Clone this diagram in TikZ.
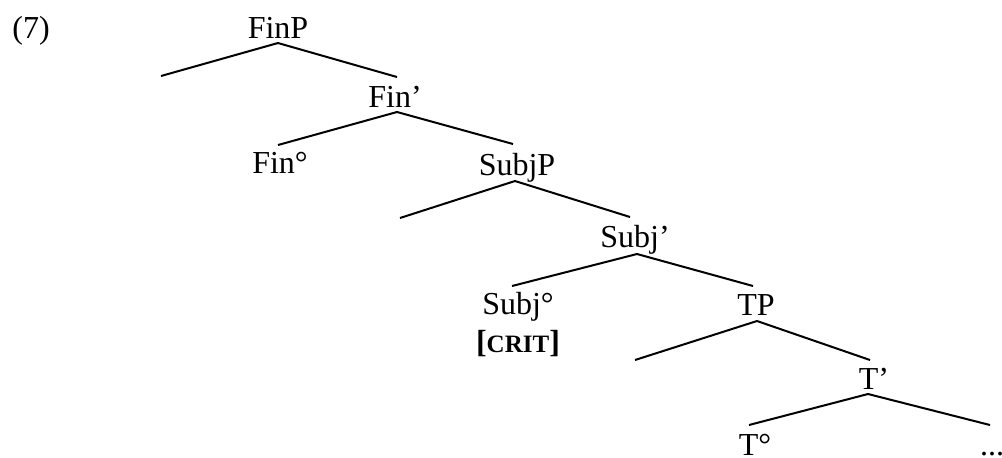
\documentclass[tikz,border=0pt]{standalone}
\usepackage{fontspec}
\setmainfont{Liberation Serif}
\begin{document}
\begin{tikzpicture}[x=0.5pt,y=-0.5pt,
  lbl/.style={anchor=base,inner sep=0pt,font=\fontsize{16}{19}\selectfont},
  branch/.style={line width=1pt}]
\useasboundingbox (0,0) rectangle (1002,457);
% labels
\node[lbl,anchor=base west] (ex) at (12,38) {(7)};
\node[lbl] (finp) at (278,38) {FinP};
\node[lbl] (finbar) at (395,107) {Fin’};
\node[lbl] (finhead) at (280,173) {Fin°};
\node[lbl] (subjp) at (517,175) {SubjP};
\node[lbl] (subjbar) at (635,247) {Subj’};
\node[lbl] (subjhead) at (518,314) {Subj°};
\node[lbl] (crit) at (518,352) {\textbf{[}{\fontsize{12.5}{14}\selectfont\bfseries CRIT}\textbf{]}};
\node[lbl] (tp) at (756,315) {TP};
\node[lbl] (tbar) at (874,389) {T’};
\node[lbl] (thead) at (755,455) {T°};
\node[lbl] (dots) at (992,455) {...};
% empty specifier ends
\coordinate (finspec) at (161,76);
\coordinate (subjspec) at (400,218);
\coordinate (tspec) at (635,360);
% apexes
\coordinate (finp-a) at ([yshift=-2.5pt]finp.base);
\coordinate (finbar-a) at ([xshift=1pt,yshift=-2.5pt]finbar.base);
\coordinate (subjp-a) at ([xshift=-1pt,yshift=-3pt]subjp.base);
\coordinate (subjbar-a) at ([xshift=1pt,yshift=-3.5pt]subjbar.base);
\coordinate (tp-a) at ([xshift=0.5pt,yshift=-3pt]tp.base);
\coordinate (tbar-a) at ([xshift=-3pt,yshift=-2.5pt]tbar.base);
% branches
\draw[branch] (finp-a) -- (finspec);
\draw[branch] (finp-a) -- ([xshift=1pt,yshift=15pt]finbar.base);
\draw[branch] (finbar-a) -- ([xshift=-1pt,yshift=14pt]finhead.base);
\draw[branch] (finbar-a) -- ([xshift=-2pt,yshift=15.5pt]subjp.base);
\draw[branch] (subjp-a) -- (subjspec);
\draw[branch] (subjp-a) -- ([xshift=-2.5pt,yshift=15pt]subjbar.base);
\draw[branch] (subjbar-a) -- ([xshift=-3pt,yshift=14pt]subjhead.base);
\draw[branch] (subjbar-a) -- ([xshift=-1.5pt,yshift=14.5pt]tp.base);
\draw[branch] (tp-a) -- (tspec);
\draw[branch] (tp-a) -- ([xshift=-2pt,yshift=14.5pt]tbar.base);
\draw[branch] (tbar-a) -- ([xshift=-3pt,yshift=15pt]thead.base);
\draw[branch] (tbar-a) -- ([xshift=-1pt,yshift=15pt]dots.base);
\end{tikzpicture}
\end{document}
